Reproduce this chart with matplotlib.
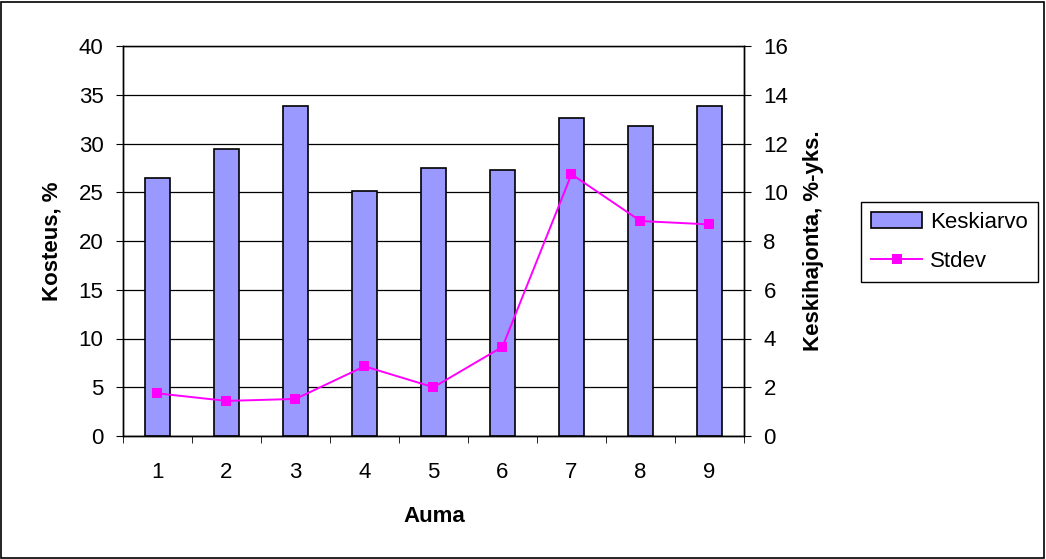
import numpy as np
import matplotlib.pyplot as plt
from matplotlib.patches import Rectangle

plt.rcParams['font.family'] = ['Liberation Sans', 'DejaVu Sans']

auma = ['1', '2', '3', '4', '5', '6', '7', '8', '9']
keskiarvo = [26.5, 29.45, 33.8, 25.1, 27.5, 27.3, 32.6, 31.8, 33.8]
stdev = [1.75, 1.44, 1.52, 2.86, 2.0, 3.66, 10.74, 8.82, 8.68]

fig = plt.figure(figsize=(10.46, 5.59), dpi=100)
ax = fig.add_axes([123 / 1046, 1 - 436 / 559, 621 / 1046, 390 / 559])
ax2 = ax.twinx()

x = np.arange(len(auma))
bars = ax.bar(x, keskiarvo, width=0.35, color='#9999FF', edgecolor='black',
              linewidth=1.2, zorder=3, label='Keskiarvo')
line, = ax2.plot(x, stdev, color='#FF00FF', lw=1.4, marker='s', markersize=7.5,
                 markeredgewidth=0, label='Stdev', zorder=4)

ax.set_xlim(-0.5, 8.5)
ax.set_ylim(0, 40)
ax2.set_ylim(0, 16)
ax.set_yticks(np.arange(0, 41, 5))
ax2.set_yticks(np.arange(0, 17, 2))
ax.yaxis.grid(True, color='black', lw=0.9, zorder=0)
ax.set_axisbelow(True)

ax.set_xticks(x)
ax.set_xticklabels(auma)
ax.set_xticks(np.arange(-0.5, 9, 1), minor=True)
ax.tick_params(axis='x', which='major', length=0, pad=19, labelsize=16)
ax.tick_params(axis='x', which='minor', length=5, direction='out', color='black')
ax.tick_params(axis='y', length=5, direction='out', labelsize=16, pad=9)
ax2.tick_params(axis='y', length=5, direction='out', labelsize=16, pad=9)

for a in (ax, ax2):
    for s in a.spines.values():
        s.set_color('black')
        s.set_linewidth(1.0)
ax.spines['top'].set_color('#808080')

fig.text(52 / 1046, 1 - 241 / 559, 'Kosteus, %', rotation=90, ha='center', va='center',
         fontsize=16, fontweight='bold')
fig.text(814 / 1046, 1 - 241 / 559, 'Keskihajonta, %-yks.', rotation=90, ha='center',
         va='center', fontsize=16, fontweight='bold')
fig.text(434 / 1046, 1 - 516 / 559, 'Auma', ha='center', va='center',
         fontsize=16, fontweight='bold')

leg = fig.legend([bars, line], ['Keskiarvo', 'Stdev'], loc='upper left',
                 bbox_to_anchor=(861 / 1046, 1 - 202 / 559), fontsize=16,
                 frameon=True, fancybox=False, edgecolor='black', framealpha=1,
                 handlelength=2.3, handletextpad=0.35, borderpad=0.45, labelspacing=0.8,
                 borderaxespad=0)
leg.get_frame().set_linewidth(1.0)

fig.patches.append(Rectangle((1 / 1046, 1 / 559), 1043 / 1046, 556 / 559,
                             transform=fig.transFigure, fill=False,
                             edgecolor='black', lw=1.2))

fig.savefig('out.png', dpi=100)
